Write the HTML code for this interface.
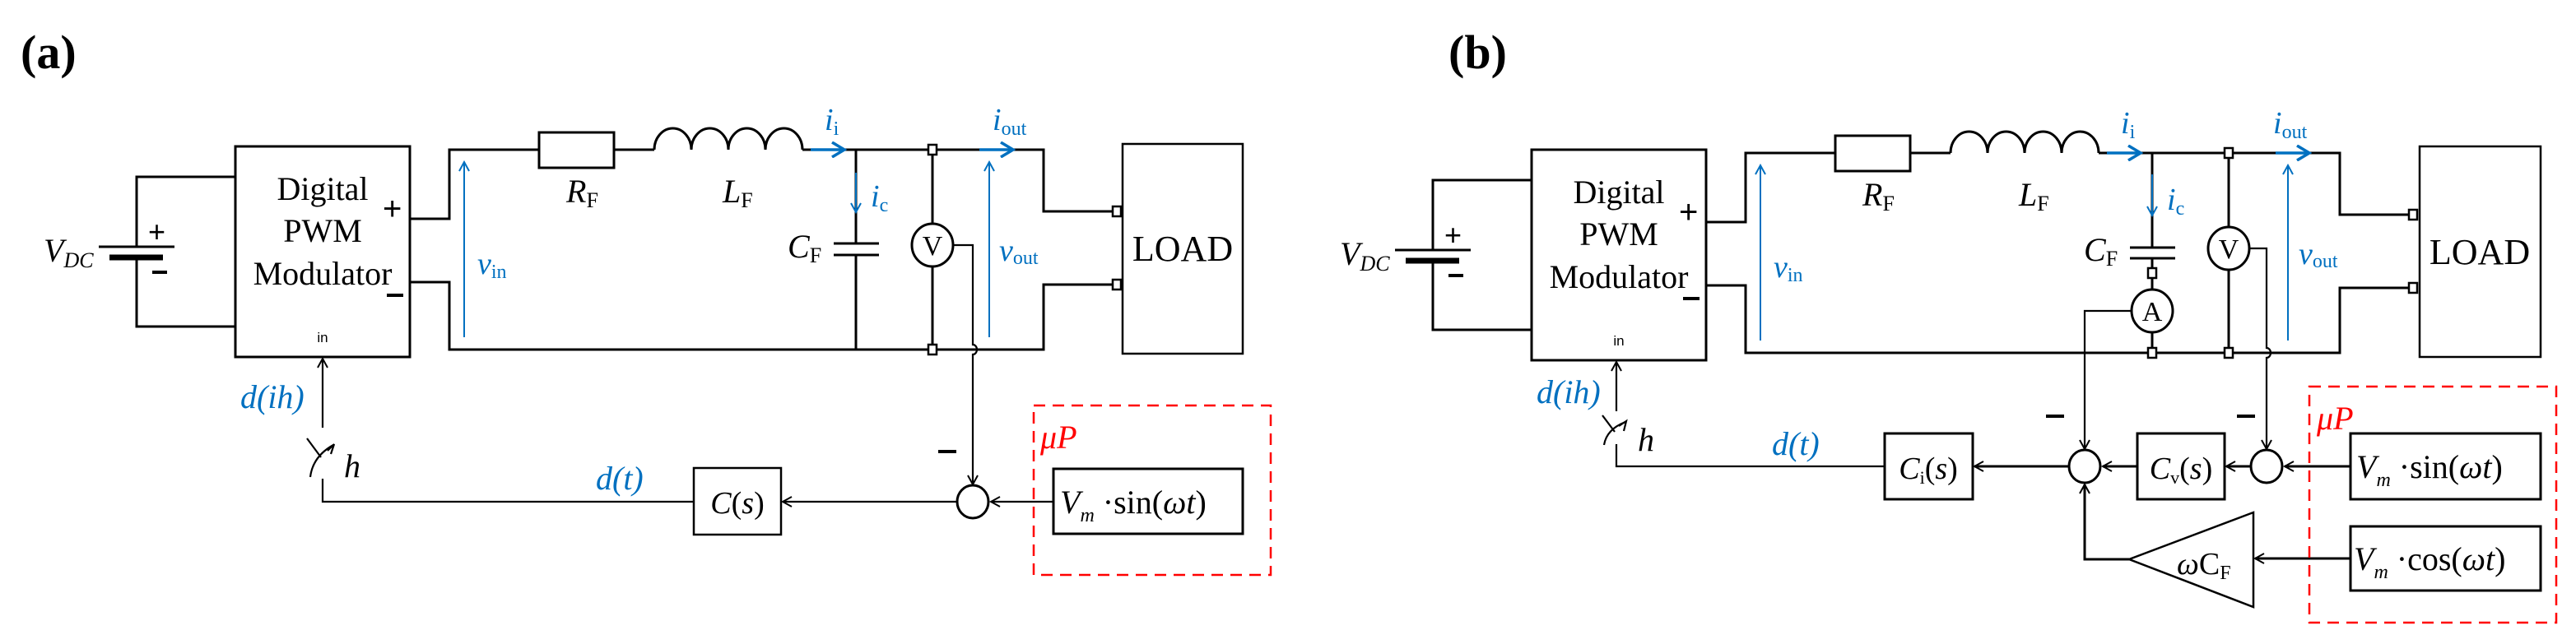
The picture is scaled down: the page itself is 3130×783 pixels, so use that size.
<!DOCTYPE html>
<html><head><meta charset="utf-8"><style>
html,body{margin:0;padding:0;background:#fff}
svg{display:block;font-family:"Liberation Serif","DejaVu Serif",serif}
.i{font-style:italic}
.b{fill:#0070c0}
.s{font-family:"Liberation Sans",sans-serif}
</style></head><body>
<svg width="3130" height="783" viewBox="0 0 3130 783" xmlns="http://www.w3.org/2000/svg" font-family="Liberation Serif, serif">
<defs>
<marker id="ak" markerWidth="14" markerHeight="14" refX="12" refY="7" orient="auto" markerUnits="userSpaceOnUse"><path d="M1,1 L12,7 L1,13" fill="none" stroke="#000" stroke-width="2"/></marker>
<marker id="ab" markerWidth="14" markerHeight="14" refX="12" refY="7" orient="auto" markerUnits="userSpaceOnUse"><path d="M1,1 L12,7 L1,13" fill="none" stroke="#0070c0" stroke-width="2"/></marker>
<marker id="abt" markerWidth="20" markerHeight="20" refX="17" refY="10" orient="auto" markerUnits="userSpaceOnUse"><path d="M2,1 L17,10 L2,19" fill="none" stroke="#0070c0" stroke-width="3.5"/></marker>
</defs>

<!-- ================= PANEL A ================= -->
<text x="25" y="83" font-size="58" font-weight="bold">(a)</text>
<g fill="none" stroke="#000" stroke-width="3">
<path d="M285 215 H166 V300 M166 313 V397 H285"/>
<line x1="120" y1="300" x2="212" y2="300"/>
<line x1="133" y1="313" x2="198" y2="313" stroke-width="7"/>
<rect x="286" y="178" width="212" height="256"/>
<path d="M498 266 H546 V182 H655 M746 182 H795 M975 182 H1268 V257 H1357 M498 343 H546 V425 H1268 V346 H1357"/>
<rect x="655" y="161" width="91" height="43"/>
<path d="M795 182 a22.5 26 0 0 1 45 0 a22.5 26 0 0 1 45 0 a22.5 26 0 0 1 45 0 a22.5 26 0 0 1 45 0"/>
<path d="M1040 182 V296 M1040 310 V425"/>
<line x1="1013" y1="296" x2="1068" y2="296"/>
<line x1="1013" y1="310" x2="1068" y2="310"/>
<path d="M1133 182 V272 M1133 324 V425"/>
<ellipse cx="1133" cy="298" rx="25" ry="26"/>
<rect x="1128" y="176" width="10" height="12" stroke-width="2.5" fill="#fff"/>
<rect x="1128" y="419" width="10" height="12" stroke-width="2.5" fill="#fff"/>
<rect x="1352" y="251" width="10" height="12" stroke-width="2.5" fill="#fff"/>
<rect x="1352" y="340" width="10" height="12" stroke-width="2.5" fill="#fff"/>
<rect x="1364" y="175" width="146" height="255" stroke-width="2.5"/>
</g>
<g fill="none" stroke="#000" stroke-width="2.2">
<path d="M1158 298 H1182 V419 a5 6 0 0 1 0 12 V589" marker-end="url(#ak)"/>
<line x1="392" y1="520" x2="392" y2="436" marker-end="url(#ak)"/>
<path d="M392 582 V610 H843"/>
<path d="M377 580 Q380 555 405 541"/>
<path d="M398 548 L406 540 L402 552"/>
<line x1="373" y1="533" x2="390" y2="556"/>
<rect x="843" y="569" width="106" height="81" stroke-width="2.5"/>
<line x1="1162" y1="610" x2="951" y2="610" marker-end="url(#ak)"/>
<ellipse cx="1182" cy="610" rx="19" ry="20" stroke-width="3"/>
<line x1="1280" y1="610" x2="1204" y2="610" marker-end="url(#ak)"/>
<rect x="1280" y="570" width="230" height="79" stroke-width="3"/>
</g>
<line x1="1140" y1="549" x2="1162" y2="549" stroke="#000" stroke-width="4"/>
<rect x="1256" y="493" width="288" height="206" fill="none" stroke="#f00" stroke-width="2.5" stroke-dasharray="14,9"/>
<g fill="none" stroke="#0070c0" stroke-width="2">
<line x1="564" y1="410" x2="564" y2="197" marker-end="url(#ab)"/>
<line x1="1202" y1="410" x2="1202" y2="197" marker-end="url(#ab)"/>
<line x1="1040" y1="210" x2="1040" y2="258" marker-end="url(#ab)"/>
<line x1="985" y1="182" x2="1026" y2="182" stroke-width="3.5" marker-end="url(#abt)"/>
<line x1="1190" y1="182" x2="1231" y2="182" stroke-width="3.5" marker-end="url(#abt)"/>
</g>
<text x="392" y="243" font-size="40" text-anchor="middle">Digital</text>
<text x="392" y="294" font-size="40" text-anchor="middle">PWM</text>
<text x="392" y="346" font-size="40" text-anchor="middle">Modulator</text>
<text x="392" y="416" font-size="17" text-anchor="middle" class="s">in</text>
<text x="465" y="267" font-size="40" class="s">+</text>
<line x1="470" y1="359" x2="490" y2="359" stroke="#000" stroke-width="4"/>
<text x="180" y="294" font-size="36" class="s">+</text>
<line x1="185" y1="331" x2="203" y2="331" stroke="#000" stroke-width="4"/>
<text x="53" y="318" font-size="40" class="i">V<tspan font-size="26" dy="7">DC</tspan></text>
<text x="688" y="246" font-size="40" class="i">R<tspan font-size="26" dy="6" font-style="normal">F</tspan></text>
<text x="878" y="246" font-size="40" class="i">L<tspan font-size="26" dy="6" font-style="normal">F</tspan></text>
<text x="957" y="313" font-size="40" class="i">C<tspan font-size="26" dy="6" font-style="normal">F</tspan></text>
<text x="1437" y="317" font-size="44" text-anchor="middle">LOAD</text>
<text x="1133" y="310" font-size="34" text-anchor="middle">V</text>
<text x="1002" y="158" font-size="38" class="i b">i<tspan font-size="24" dy="6" font-style="normal">i</tspan></text>
<text x="1058" y="251" font-size="38" class="i b">i<tspan font-size="24" dy="6" font-style="normal">c</tspan></text>
<text x="1206" y="158" font-size="38" class="i b">i<tspan font-size="24" dy="6" font-style="normal">out</tspan></text>
<text x="1214" y="317" font-size="38" class="i b">v<tspan font-size="24" dy="4" font-style="normal">out</tspan></text>
<text x="580" y="333" font-size="38" class="i b">v<tspan font-size="24" dy="5" font-style="normal">in</tspan></text>
<text x="292" y="496" font-size="40" class="i b">d(ih)</text>
<text x="724" y="595" font-size="40" class="i b">d(t)</text>
<text x="418" y="580" font-size="40" class="i">h</text>
<text x="896" y="624" font-size="38" text-anchor="middle"><tspan class="i">C</tspan>(<tspan class="i">s</tspan>)</text>
<text x="1288" y="624" font-size="40"><tspan class="i">V</tspan><tspan font-size="24" class="i" dy="10">m</tspan><tspan dy="-10"> ·sin(</tspan><tspan class="i">ωt</tspan>)</text>
<text x="1264" y="545" font-size="40" class="i" fill="#f00">μP</text>

<!-- ================= PANEL B ================= -->
<text x="1760" y="83" font-size="58" font-weight="bold">(b)</text>
<g fill="none" stroke="#000" stroke-width="3">
<path d="M1860 219 H1741 V304 M1741 317 V401 H1860"/>
<line x1="1695" y1="304" x2="1787" y2="304"/>
<line x1="1708" y1="317" x2="1773" y2="317" stroke-width="7"/>
<rect x="1861" y="182" width="212" height="256"/>
<path d="M2073 270 H2121 V186 H2230 M2321 186 H2370 M2550 186 H2843 V261 H2932 M2073 347 H2121 V429 H2843 V350 H2932"/>
<rect x="2230" y="165" width="91" height="43"/>
<path d="M2370 186 a22.5 26 0 0 1 45 0 a22.5 26 0 0 1 45 0 a22.5 26 0 0 1 45 0 a22.5 26 0 0 1 45 0"/>
<path d="M2615 186 V301 M2615 314 V352 M2615 404 V429"/>
<line x1="2588" y1="301" x2="2643" y2="301"/>
<line x1="2588" y1="314" x2="2643" y2="314"/>
<ellipse cx="2615" cy="378" rx="25" ry="26"/>
<path d="M2708 186 V276 M2708 328 V429"/>
<ellipse cx="2708" cy="302" rx="25" ry="26"/>
<rect x="2610" y="326" width="10" height="12" stroke-width="2.5" fill="#fff"/>
<rect x="2610" y="423" width="10" height="12" stroke-width="2.5" fill="#fff"/>
<rect x="2703" y="180" width="10" height="12" stroke-width="2.5" fill="#fff"/>
<rect x="2703" y="423" width="10" height="12" stroke-width="2.5" fill="#fff"/>
<rect x="2927" y="255" width="10" height="12" stroke-width="2.5" fill="#fff"/>
<rect x="2927" y="344" width="10" height="12" stroke-width="2.5" fill="#fff"/>
<rect x="2940" y="178" width="147" height="256" stroke-width="2.5"/>
</g>
<g fill="none" stroke="#000" stroke-width="2.2">
<path d="M2590 378 H2533 V546" marker-end="url(#ak)"/>
<path d="M2733 302 H2754 V423 a5 6 0 0 1 0 12 V546" marker-end="url(#ak)"/>
<line x1="1964" y1="500" x2="1964" y2="440" marker-end="url(#ak)"/>
<path d="M1964 540 V567 H2290"/>
<path d="M1949 541 Q1952 522 1975 513"/>
<path d="M1967 518 L1976 512 L1973 524"/>
<line x1="1947" y1="505" x2="1962" y2="525"/>
<g stroke-width="3">
<rect x="2290" y="527" width="107" height="80"/>
<rect x="2597" y="527" width="106" height="80"/>
<rect x="2856" y="527" width="231" height="80"/>
<rect x="2856" y="640" width="231" height="78"/>
<ellipse cx="2533" cy="567" rx="19" ry="20"/>
<ellipse cx="2754" cy="567" rx="19" ry="20"/>
<line x1="2513" y1="567" x2="2399" y2="567" marker-end="url(#ak)"/>
<line x1="2597" y1="567" x2="2555" y2="567" marker-end="url(#ak)"/>
<line x1="2734" y1="567" x2="2705" y2="567" marker-end="url(#ak)"/>
<line x1="2856" y1="567" x2="2776" y2="567" marker-end="url(#ak)"/>
<line x1="2856" y1="679" x2="2740" y2="679" marker-end="url(#ak)"/>
<path d="M2587 680 H2533 V589" marker-end="url(#ak)"/>
</g>
<path d="M2738 623 V738 L2587 680 Z" stroke-width="2.5"/>
</g>
<line x1="2486" y1="506" x2="2508" y2="506" stroke="#000" stroke-width="4"/>
<line x1="2718" y1="506" x2="2740" y2="506" stroke="#000" stroke-width="4"/>
<rect x="2806" y="470" width="300" height="287" fill="none" stroke="#f00" stroke-width="2.5" stroke-dasharray="14,9"/>
<g fill="none" stroke="#0070c0" stroke-width="2">
<line x1="2139" y1="414" x2="2139" y2="201" marker-end="url(#ab)"/>
<line x1="2780" y1="414" x2="2780" y2="201" marker-end="url(#ab)"/>
<line x1="2615" y1="212" x2="2615" y2="262" marker-end="url(#ab)"/>
<line x1="2560" y1="186" x2="2601" y2="186" stroke-width="3.5" marker-end="url(#abt)"/>
<line x1="2765" y1="186" x2="2806" y2="186" stroke-width="3.5" marker-end="url(#abt)"/>
</g>
<text x="1967" y="247" font-size="40" text-anchor="middle">Digital</text>
<text x="1967" y="298" font-size="40" text-anchor="middle">PWM</text>
<text x="1967" y="350" font-size="40" text-anchor="middle">Modulator</text>
<text x="1967" y="420" font-size="17" text-anchor="middle" class="s">in</text>
<text x="2040" y="271" font-size="40" class="s">+</text>
<line x1="2045" y1="363" x2="2065" y2="363" stroke="#000" stroke-width="4"/>
<text x="1755" y="298" font-size="36" class="s">+</text>
<line x1="1760" y1="335" x2="1778" y2="335" stroke="#000" stroke-width="4"/>
<text x="1628" y="322" font-size="40" class="i">V<tspan font-size="26" dy="7">DC</tspan></text>
<text x="2263" y="250" font-size="40" class="i">R<tspan font-size="26" dy="6" font-style="normal">F</tspan></text>
<text x="2453" y="250" font-size="40" class="i">L<tspan font-size="26" dy="6" font-style="normal">F</tspan></text>
<text x="2532" y="317" font-size="40" class="i">C<tspan font-size="26" dy="6" font-style="normal">F</tspan></text>
<text x="2615" y="390" font-size="34" text-anchor="middle">A</text>
<text x="2708" y="314" font-size="34" text-anchor="middle">V</text>
<text x="3013" y="321" font-size="44" text-anchor="middle">LOAD</text>
<text x="2577" y="162" font-size="38" class="i b">i<tspan font-size="24" dy="6" font-style="normal">i</tspan></text>
<text x="2633" y="255" font-size="38" class="i b">i<tspan font-size="24" dy="6" font-style="normal">c</tspan></text>
<text x="2762" y="162" font-size="38" class="i b">i<tspan font-size="24" dy="6" font-style="normal">out</tspan></text>
<text x="2793" y="321" font-size="38" class="i b">v<tspan font-size="24" dy="4" font-style="normal">out</tspan></text>
<text x="2155" y="337" font-size="38" class="i b">v<tspan font-size="24" dy="5" font-style="normal">in</tspan></text>
<text x="1867" y="490" font-size="40" class="i b">d(ih)</text>
<text x="2153" y="553" font-size="40" class="i b">d(t)</text>
<text x="1990" y="548" font-size="40" class="i">h</text>
<text x="2343" y="582" font-size="38" text-anchor="middle"><tspan class="i">C</tspan><tspan font-size="22" dy="6">i</tspan><tspan dy="-6">(</tspan><tspan class="i">s</tspan>)</text>
<text x="2650" y="582" font-size="38" text-anchor="middle"><tspan class="i">C</tspan><tspan font-size="22" dy="6">v</tspan><tspan dy="-6">(</tspan><tspan class="i">s</tspan>)</text>
<text x="2645" y="698" font-size="38"><tspan class="i">ω</tspan>C<tspan font-size="24" dy="6">F</tspan></text>
<text x="2863" y="581" font-size="40"><tspan class="i">V</tspan><tspan font-size="24" class="i" dy="10">m</tspan><tspan dy="-10"> ·sin(</tspan><tspan class="i">ωt</tspan>)</text>
<text x="2860" y="693" font-size="40"><tspan class="i">V</tspan><tspan font-size="24" class="i" dy="10">m</tspan><tspan dy="-10"> ·cos(</tspan><tspan class="i">ωt</tspan>)</text>
<text x="2815" y="522" font-size="40" class="i" fill="#f00">μP</text>
</svg>
</body></html>
